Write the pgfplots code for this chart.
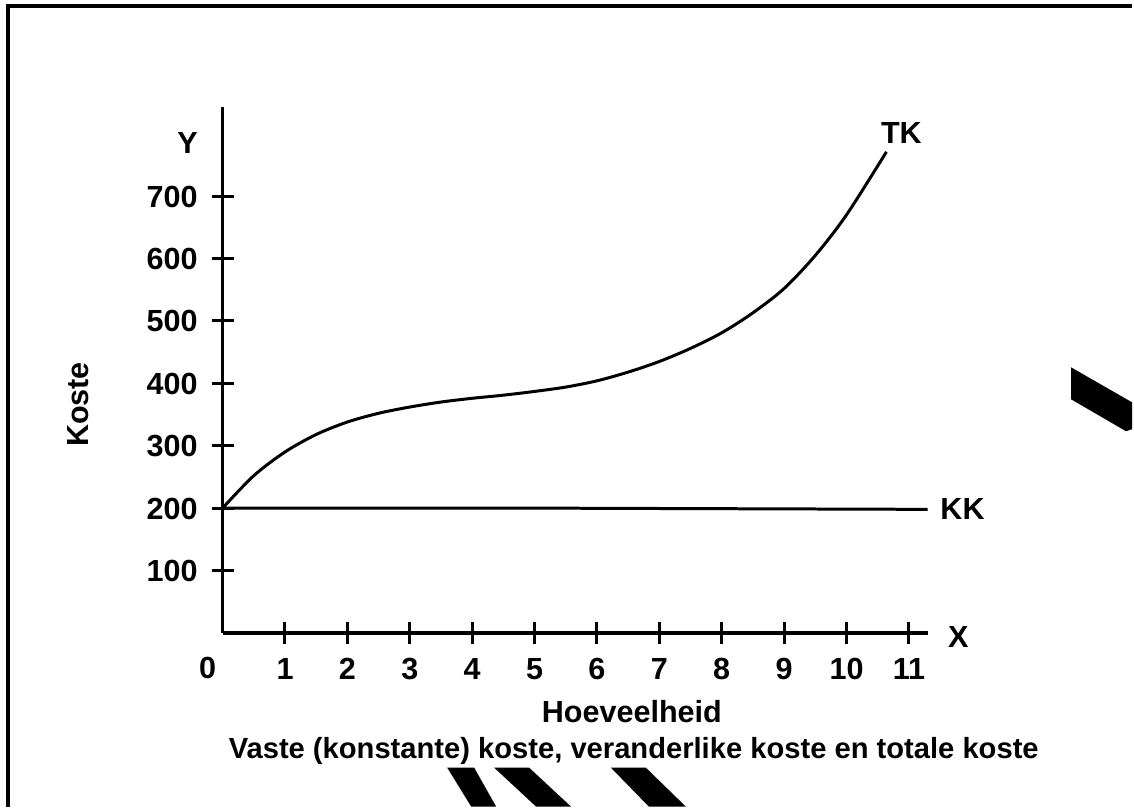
\documentclass[border=0pt]{standalone}
\usepackage{fontspec}
\setmainfont{Liberation Sans}
\usepackage{pgfplots}
\pgfplotsset{compat=1.18}
\newcommand{\lblfont}{\fontsize{15.3pt}{18pt}\selectfont\bfseries}
\begin{document}
\begin{tikzpicture}
\begin{axis}[
  x=31.25pt, y=0.3125pt,
  xmin=0, xmax=11.3, ymin=0, ymax=843,
  axis lines=left,
  axis line style={line width=1.8pt, -},
  xtick={1,2,...,11}, ytick={100,200,...,700},
  tick align=center,
  major tick length=11pt,
  tick style={line width=1.5pt, black},
  ticklabel style={font=\lblfont},
  /pgf/number format/assume math mode=true,
  xticklabel style={anchor=base, yshift=-18pt},
  yticklabel style={xshift=-3.5pt, text height=11pt, text depth=0pt},
  clip=false,
]
% page extent
\path (axis cs:-3.568,-278.4) rectangle (axis cs:14.576,1014.4);
% frame (top and left)
\draw[line width=2pt] (axis cs:-3.432,-278.4) -- (axis cs:-3.432,1004.3) -- (axis cs:14.576,1004.3);
% constant cost KK
\addplot[black, line width=1.5pt] coordinates {(0,200) (5,200) (11.3,198)};
% total cost TK
\addplot[black, line width=1.5pt, smooth] coordinates {
(0,200) (0.5,252) (1.0,290) (1.5,318) (2.0,338) (2.5,352) (3.0,362) (3.5,370)
(4.0,376) (4.5,381) (5.0,387) (5.5,394) (6.0,404) (6.5,418) (7.0,435) (7.5,456)
(8.0,481) (8.5,513) (9.0,552) (9.5,605) (10.0,670) (10.64,771)};
% black smudges
\addplot[fill=black, draw=none] coordinates {(13.6,425.6) (14.576,369.6) (14.576,326.4) (14.48,323.2) (13.6,374.4)} -- cycle;
\addplot[fill=black, draw=none] coordinates {(3.6,-216) (4.032,-216) (4.384,-278.4) (3.984,-278.4)} -- cycle;
\addplot[fill=black, draw=none] coordinates {(4.352,-216) (4.912,-216) (5.584,-278.4) (5.024,-278.4)} -- cycle;
\addplot[fill=black, draw=none] coordinates {(6.224,-216) (6.784,-216) (7.424,-278.4) (6.832,-278.4)} -- cycle;
% labels
\node[font=\lblfont, anchor=base, yshift=-23pt] at (axis cs:-0.24,0) {0};
\node[font=\lblfont] at (axis cs:-0.56,785.6) {Y};
\node[font=\lblfont] at (axis cs:11.79,-6.4) {X};
\node[font=\lblfont] at (axis cs:10.88,801.6) {TK};
\node[font=\lblfont] at (axis cs:11.86,198) {KK};
\node[font=\lblfont] at (axis cs:6.56,-126.4) {Hoeveelheid};
\node[font=\fontsize{14.6pt}{17pt}\selectfont\bfseries] at (axis cs:6.59,-188.8) {Vaste (konstante) koste, veranderlike koste en totale koste};
\node[font=\lblfont, rotate=90] at (axis cs:-2.32,366) {Koste};
\end{axis}
\end{tikzpicture}
\end{document}
